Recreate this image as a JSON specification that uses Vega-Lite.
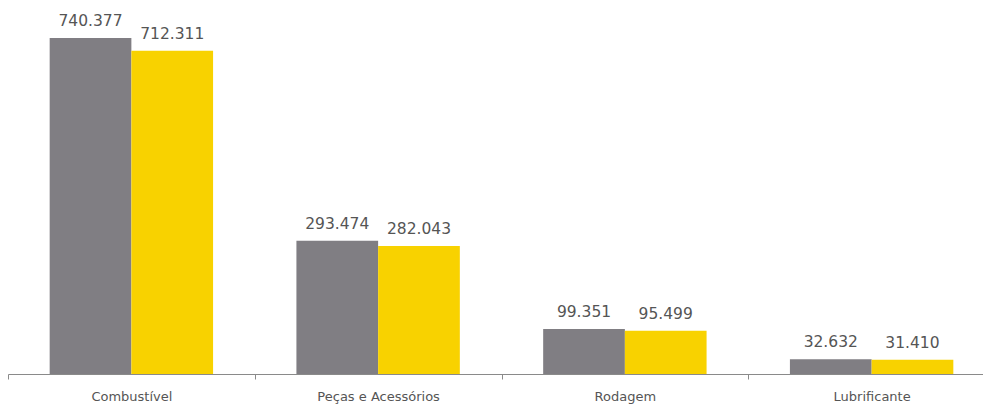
{
  "$schema": "https://vega.github.io/schema/vega-lite/v6.json",
  "width": 987,
  "height": 374,
  "autosize": {"type": "none"},
  "padding": {"left": 8, "top": 0, "right": 0, "bottom": 30},
  "background": "white",
  "config": {"view": {"stroke": null}},
  "data": {
    "values": [
      {"categoria": "Combustível", "serie": "A", "valor": 740.377},
      {"categoria": "Combustível", "serie": "B", "valor": 712.311},
      {"categoria": "Peças e Acessórios", "serie": "A", "valor": 293.474},
      {"categoria": "Peças e Acessórios", "serie": "B", "valor": 282.043},
      {"categoria": "Rodagem", "serie": "A", "valor": 99.351},
      {"categoria": "Rodagem", "serie": "B", "valor": 95.499},
      {"categoria": "Lubrificante", "serie": "A", "valor": 32.632},
      {"categoria": "Lubrificante", "serie": "B", "valor": 31.41}
    ]
  },
  "encoding": {
    "x": {
      "field": "categoria",
      "type": "nominal",
      "sort": null,
      "scale": {"paddingInner": 0, "paddingOuter": 0},
      "axis": {
        "title": null,
        "labelAngle": 0,
        "tickBand": "extent",
        "domainColor": "#8a8a8a",
        "tickColor": "#8a8a8a",
        "tickSize": 5,
        "labelFont": "DejaVu Sans",
        "labelFontSize": 13,
        "labelColor": "#555555",
        "labelPadding": 11
      }
    },
    "xOffset": {
      "field": "serie",
      "type": "nominal",
      "scale": {"paddingInner": 0, "paddingOuter": 0.51}
    },
    "y": {
      "field": "valor",
      "type": "quantitative",
      "scale": {"domain": [0, 824], "nice": false},
      "axis": null
    }
  },
  "layer": [
    {
      "mark": {
        "type": "bar"
      },
      "encoding": {
        "color": {
          "field": "serie",
          "type": "nominal",
          "scale": {"domain": ["A", "B"], "range": ["#807e83", "#f8d200"]},
          "legend": null
        }
      }
    },
    {
      "mark": {
        "type": "text",
        "baseline": "bottom",
        "dy": -9,
        "font": "DejaVu Sans",
        "fontSize": 15.5,
        "color": "#555555"
      },
      "encoding": {
        "text": {"field": "valor", "type": "quantitative", "format": ".3f"}
      }
    }
  ]
}
